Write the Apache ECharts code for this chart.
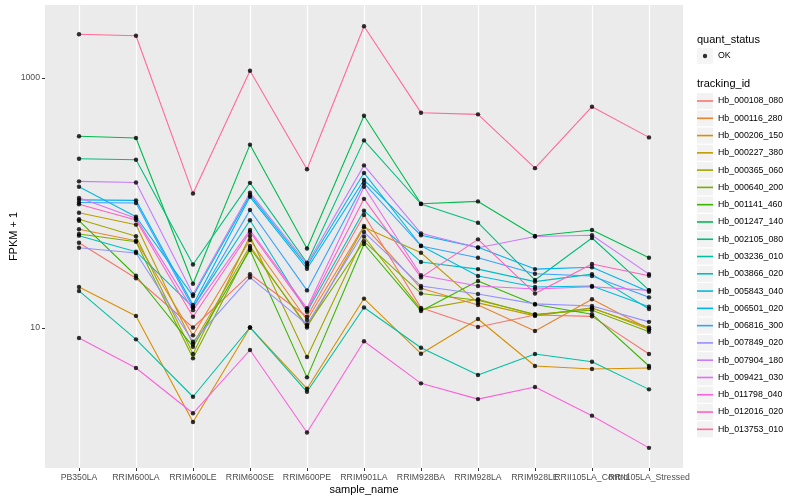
<!DOCTYPE html>
<html>
<head>
<meta charset="utf-8">
<script src="https://cdn.jsdelivr.net/npm/echarts@6/dist/echarts.min.js"></script>
<style>html,body{margin:0;padding:0;background:#fff}#c{width:800px;height:500px}</style>
</head>
<body>
<div id="c"></div>
<script>
const categories = ['PB350LA','RRIM600LA','RRIM600LE','RRIM600SE','RRIM600PE','RRIM901LA','RRIM928BA','RRIM928LA','RRIM928LE','RRII105LA_Control','RRII105LA_Stressed'];
const yTickLabels = [10, 1000];

const Hb_000108_080 = [48.1, 25.0, 10.1, 26.9, 12.3, 80.2, 14.5, 10.2, 12.7, 12.4, 6.19];
const Hb_000116_280 = [61.6, 49.9, 8.74, 50.6, 11.6, 65.5, 20.8, 15.3, 9.46, 17.0, 9.82];
const Hb_000206_150 = [21.3, 12.5, 1.77, 10.1, 3.27, 17.2, 6.23, 11.8, 4.97, 4.70, 4.79];
const Hb_000227_380 = [83.6, 67.1, 7.45, 45.3, 10.1, 63.9, 40.0, 15.9, 12.5, 14.5, 9.76];
const Hb_000365_060 = [74.1, 54.2, 6.19, 54.5, 5.86, 54.0, 14.1, 17.0, 12.7, 14.4, 10.1];
const Hb_000640_200 = [56.5, 49.0, 5.72, 43.7, 10.4, 49.4, 18.9, 16.7, 12.9, 13.9, 9.34];
const Hb_001141_460 = [72.2, 26.2, 7.09, 42.1, 4.03, 47.0, 13.7, 23.8, 15.4, 12.9, 4.97];
const Hb_001247_140 = [342, 331, 22.6, 293, 43.3, 499, 98.7, 103, 54.5, 60.8, 36.5];
const Hb_002105_080 = [226, 222, 32.2, 145, 33.3, 317, 98.2, 69.6, 24.2, 52.5, 20.1];
const Hb_003236_010 = [19.8, 8.12, 2.82, 10.1, 3.09, 14.6, 6.96, 4.21, 6.19, 5.38, 3.23];
const Hb_003866_020 = [54.8, 40.8, 14.7, 72.7, 13.5, 86.8, 33.7, 29.6, 23.5, 27.0, 14.2];
const Hb_005843_040 = [135, 77.7, 18.0, 116, 31.3, 174, 45.5, 26.1, 21.3, 21.7, 14.8];
const Hb_006501_020 = [106, 105, 15.3, 112, 29.8, 153, 55.2, 44.2, 29.6, 30.6, 19.5];
const Hb_006816_300 = [101, 100, 14.6, 87.9, 20.0, 144, 45.3, 36.5, 27.2, 26.1, 17.6];
const Hb_007849_020 = [43.9, 39.8, 7.77, 25.4, 10.7, 58.6, 21.7, 18.7, 15.6, 15.0, 11.2];
const Hb_007904_180 = [149, 146, 18.6, 121, 32.5, 200, 57.2, 43.9, 54.0, 55.2, 27.0];
const Hb_009421_030 = [110, 75.4, 13.9, 60.8, 14.4, 135, 26.4, 21.7, 20.5, 21.4, 20.0];
const Hb_011798_040 = [8.32, 4.79, 2.08, 6.67, 1.46, 7.83, 3.61, 2.70, 3.37, 1.99, 1.10];
const Hb_012016_020 = [97.6, 73.1, 12.3, 58.6, 13.9, 108, 25.4, 51.2, 18.9, 32.5, 26.2];
const Hb_013753_010 = [2237, 2180, 119, 1144, 186, 2592, 528, 512, 190, 589, 335];

const trackingIds = ['Hb_000108_080','Hb_000116_280','Hb_000206_150','Hb_000227_380','Hb_000365_060','Hb_000640_200','Hb_001141_460','Hb_001247_140','Hb_002105_080','Hb_003236_010','Hb_003866_020','Hb_005843_040','Hb_006501_020','Hb_006816_300','Hb_007849_020','Hb_007904_180','Hb_009421_030','Hb_011798_040','Hb_012016_020','Hb_013753_010'];
const seriesValues = [Hb_000108_080,Hb_000116_280,Hb_000206_150,Hb_000227_380,Hb_000365_060,Hb_000640_200,Hb_001141_460,Hb_001247_140,Hb_002105_080,Hb_003236_010,Hb_003866_020,Hb_005843_040,Hb_006501_020,Hb_006816_300,Hb_007849_020,Hb_007904_180,Hb_009421_030,Hb_011798_040,Hb_012016_020,Hb_013753_010];

// ggplot2 default hue palette (hcl, c=100, l=65)
function hcl(h, c, l) {
  const hr = h * Math.PI / 180;
  const U = c * Math.cos(hr), V = c * Math.sin(hr);
  const Xn = 95.047, Yn = 100, Zn = 108.883;
  const Y = l > 7.999592 ? Yn * Math.pow((l + 16) / 116, 3) : Yn * l / 903.3;
  const den = Xn + 15 * Yn + 3 * Zn;
  const un = 4 * Xn / den, vn = 9 * Yn / den;
  const u = U / (13 * l) + un, v = V / (13 * l) + vn;
  const X = 9 * Y * u / (4 * v);
  const Z = -X / 3 - 5 * Y + 3 * Y / v;
  const x = X / 100, y = Y / 100, z = Z / 100;
  const lin = [
    3.240479 * x - 1.537150 * y - 0.498535 * z,
    -0.969256 * x + 1.875992 * y + 0.041556 * z,
    0.055648 * x - 0.204043 * y + 1.057311 * z
  ];
  const g = lin.map(t => {
    const s = t <= 0.0031308 ? 12.92 * t : 1.055 * Math.pow(t, 1 / 2.4) - 0.055;
    return Math.round(Math.min(1, Math.max(0, s)) * 255);
  });
  return 'rgb(' + g.join(',') + ')';
}
const n = trackingIds.length;
const colors = trackingIds.map((_, i) => hcl(15 + i * 360 / n, 100, 65));

const FONT = 'Liberation Sans, Arial, Helvetica, sans-serif';
const yMin = 0.759, yMax = 3837;

const lineSeries = trackingIds.map((name, i) => ({
  name: name,
  type: 'line',
  xAxisIndex: 1, yAxisIndex: 1,
  data: seriesValues[i],
  symbol: 'none',
  color: colors[i],
  lineStyle: { width: 1.1, color: colors[i] },
  z: 2
}));

const pointData = [];
seriesValues.forEach(arr => arr.forEach((v, j) => pointData.push([categories[j], v])));

const chart = echarts.init(document.getElementById('c'), null, { renderer: 'canvas' });
chart.setOption({
  animation: false,
  backgroundColor: '#ffffff',
  textStyle: { fontFamily: FONT },
  title: [
    { text: 'quant_status', left: 697, top: 34, padding: 0, textStyle: { fontFamily: FONT, fontSize: 11, fontWeight: 'normal', color: '#000' } },
    { text: 'tracking_id', left: 697, top: 78, padding: 0, textStyle: { fontFamily: FONT, fontSize: 11, fontWeight: 'normal', color: '#000' } }
  ],
  grid: [
    { left: 45, top: 5, width: 638, height: 463, show: true, backgroundColor: '#EBEBEB', borderWidth: 0, containLabel: false, outerBoundsMode: 'none' },
    { left: 79, top: 5, width: 570, height: 463, show: false, containLabel: false, outerBoundsMode: 'none' }
  ],
  xAxis: [
    { type: 'value', gridIndex: 0, min: 0, max: 1, show: false },
    {
      type: 'category', gridIndex: 1, data: categories, boundaryGap: false,
      axisLine: { show: false },
      axisTick: { show: true, length: 3, lineStyle: { color: '#333333' } },
      axisLabel: { interval: 0, fontSize: 8.7, color: '#4D4D4D', margin: 5, fontFamily: FONT },
      splitLine: { show: true, lineStyle: { color: '#FFFFFF', width: 1.2 } },
      name: 'sample_name', nameLocation: 'middle', nameGap: 16, nameMoveOverlap: false,
      nameTextStyle: { fontSize: 11, color: '#000', fontFamily: FONT }
    }
  ],
  yAxis: [
    {
      type: 'log', gridIndex: 0, min: yMin, max: yMax, logBase: 10,
      axisLine: { show: false },
      axisTick: { show: true, length: 3, lineStyle: { color: '#333333' }, customValues: yTickLabels },
      axisLabel: {
        fontSize: 8.7, color: '#4D4D4D', margin: 5, fontFamily: FONT,
        formatter: function (v) {
          const r = Math.round(v);
          return (Math.abs(v - r) < 1e-6 && yTickLabels.indexOf(r) >= 0) ? String(r) : '';
        }
      },
      splitLine: { show: true, showMinLine: false, showMaxLine: false, lineStyle: { color: ['#F7F7F7', '#FFFFFF'], width: 1.2 } },
      name: 'FPKM + 1', nameLocation: 'middle', nameGap: 26, nameRotate: 90, nameMoveOverlap: false,
      nameTextStyle: { fontSize: 11, color: '#000', fontFamily: FONT }
    },
    { type: 'log', gridIndex: 1, min: yMin, max: yMax, logBase: 10, show: false }
  ],
  legend: [
    {
      data: ['OK'], left: 697, top: 48, padding: 0, orient: 'vertical',
      icon: 'rect', itemWidth: 16, itemHeight: 16, selectedMode: false,
      itemStyle: { color: '#F2F2F2', borderWidth: 0 },
      textStyle: { fontSize: 8.8, color: '#000', fontFamily: FONT }, z: 4
    },
    {
      data: ['OK'], left: 697, top: 48, padding: 0, orient: 'vertical',
      icon: 'path://M0,0M5.8,8a2.2,2.2 0 1,0 4.4,0a2.2,2.2 0 1,0 -4.4,0ZM16,16',
      itemWidth: 16, itemHeight: 16, selectedMode: false,
      formatter: function () { return ''; },
      textStyle: { fontSize: 8 }, z: 5
    },
    {
      data: trackingIds, left: 697, top: 93, padding: 0, orient: 'vertical',
      icon: 'rect', itemWidth: 16, itemHeight: 16, itemGap: 1.28, selectedMode: false,
      itemStyle: { color: '#F2F2F2', borderWidth: 0 },
      textStyle: { fontSize: 8.8, color: '#000', fontFamily: FONT }, z: 4
    },
    {
      data: trackingIds, left: 697, top: 93, padding: 0, orient: 'vertical',
      icon: 'path://M0,0M0,7.2L16,7.2L16,8.8L0,8.8ZM16,16',
      itemWidth: 16, itemHeight: 16, itemGap: 1.28, selectedMode: false,
      formatter: function () { return ''; },
      textStyle: { fontSize: 8 }, z: 5
    }
  ],
  series: lineSeries.concat([{
    name: 'OK', type: 'scatter', xAxisIndex: 1, yAxisIndex: 1,
    data: pointData, symbol: 'circle', symbolSize: 4.4,
    itemStyle: { color: '#000000' }, z: 5
  }])
});
</script>
</body>
</html>
